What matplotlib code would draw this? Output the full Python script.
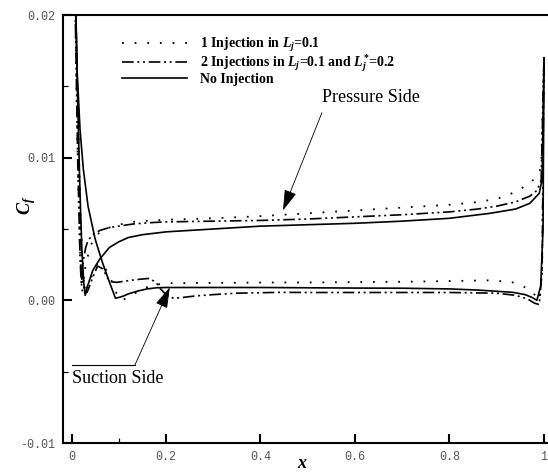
import numpy as np
import matplotlib
matplotlib.use("Agg")
import matplotlib.pyplot as plt
from matplotlib.ticker import FixedLocator

plt.rcParams['mathtext.fontset'] = 'custom'
plt.rcParams['mathtext.it'] = 'Liberation Serif:italic:bold'
plt.rcParams['mathtext.rm'] = 'Liberation Serif:bold'
plt.rcParams['mathtext.bf'] = 'Liberation Serif:bold'

CF_UNIT = 1e-3  # values below are in units of 1e-3

# ---- No Injection (solid) ----
noinj_p_x = [0.003, 0.008, 0.013, 0.018, 0.022, 0.026, 0.029, 0.033, 0.04, 0.045, 0.06, 0.08,
             0.1, 0.12, 0.15, 0.2, 0.3, 0.4, 0.5, 0.6, 0.7, 0.8, 0.886, 0.94, 0.97, 0.99, 0.996, 1.0]
noinj_p_y = [30, 22, 14, 7.5, 3.5, 1.2, 0.35, 0.9, 1.6, 2.1, 2.9, 3.7,
             4.1, 4.4, 4.6, 4.8, 5.0, 5.2, 5.3, 5.4, 5.55, 5.75, 6.1, 6.4, 6.8, 7.5, 8.5, 17]
noinj_s_x = [0.003, 0.008, 0.012, 0.018, 0.025, 0.035, 0.05, 0.065, 0.08, 0.093, 0.1,
             0.11, 0.12, 0.14, 0.16, 0.18, 0.2, 0.25, 0.3, 0.4, 0.5, 0.6, 0.7, 0.8, 0.86, 0.934,
             0.96, 0.975, 0.985, 0.993, 0.998, 1.0]
noinj_s_y = [30, 22, 16, 12, 9.2, 6.6, 4.3, 2.7, 1.3, 0.15, 0.2,
             0.3, 0.45, 0.65, 0.8, 0.88, 0.9, 0.9, 0.9, 0.9, 0.88, 0.86, 0.85, 0.8, 0.72, 0.56,
             0.4, 0.2, 0.0, 1.0, 5.0, 17]

# ---- 2 Injections (dash-dot-dot) ----
twoinj_p_x = [0.003, 0.008, 0.013, 0.018, 0.021, 0.025, 0.03, 0.035, 0.045, 0.06, 0.08, 0.1,
              0.13, 0.17, 0.2, 0.3, 0.4, 0.5, 0.6, 0.7, 0.8, 0.86, 0.9, 0.94, 0.97, 0.985, 0.994, 1.0]
twoinj_p_y = [30, 20, 10, 3.0, 1.0, 2.8, 3.7, 4.2, 4.6, 4.9, 5.1, 5.2,
              5.35, 5.45, 5.5, 5.55, 5.6, 5.7, 5.85, 6.0, 6.2, 6.4, 6.6, 6.9, 7.3, 7.7, 8.4, 17]
twoinj_s_x = [0.003, 0.008, 0.013, 0.018, 0.023, 0.028, 0.033, 0.045, 0.055, 0.067, 0.075,
              0.085, 0.096, 0.11, 0.124, 0.145, 0.166, 0.18, 0.187, 0.2, 0.215, 0.23, 0.26, 0.3,
              0.35, 0.44, 0.5, 0.6, 0.7, 0.8, 0.9, 0.94, 0.965, 0.98, 0.99, 0.996, 1.0]
twoinj_s_y = [30, 22, 14, 6, 1.5, 0.5, 0.56, 1.6, 2.4, 2.2, 1.6,
              1.3, 1.26, 1.33, 1.4, 1.48, 1.54, 1.2, 0.85, 0.4, 0.15, 0.18, 0.3, 0.4,
              0.5, 0.56, 0.55, 0.55, 0.55, 0.55, 0.5, 0.35, 0.1, -0.2, -0.3, 2.0, 17]

# ---- 1 Injection (dotted) ----
oneinj_p_x = [0.003, 0.008, 0.013, 0.018, 0.023, 0.03, 0.04, 0.05, 0.07, 0.1, 0.13, 0.17, 0.2,
              0.3, 0.4, 0.5, 0.6, 0.7, 0.8, 0.85, 0.9, 0.94, 0.97, 0.985, 0.994, 1.0]
oneinj_p_y = [30, 20, 10, 3.5, 0.6, 2.5, 3.8, 4.5, 5.0, 5.3, 5.5, 5.6, 5.65,
              5.75, 5.9, 6.1, 6.3, 6.5, 6.7, 6.85, 7.1, 7.6, 8.2, 8.7, 9.3, 17]
oneinj_s_x = [0.003, 0.008, 0.013, 0.018, 0.024, 0.03, 0.04, 0.055, 0.07, 0.08, 0.09, 0.1,
              0.11, 0.13, 0.15, 0.17, 0.2, 0.3, 0.4, 0.5, 0.6, 0.7, 0.8, 0.88, 0.93, 0.955,
              0.975, 0.99, 0.996, 1.0]
oneinj_s_y = [30, 22, 14, 7, 2, 0.8, 1.5, 2.6, 2.3, 1.8, 0.9, 0.1,
              0.05, 0.4, 0.8, 1.05, 1.2, 1.22, 1.25, 1.25, 1.28, 1.3, 1.35, 1.4, 1.3, 1.0,
              0.6, 0.0, 2.0, 17]

labels = ["1 Injection in $L_j$=0.1",
          "2 Injections in $L_j$=0.1 and $L_j^{*}$=0.2",
          "No Injection"]

xticks = [0, 0.2, 0.4, 0.6, 0.8, 1.0]
xtick_labels = ["0", "0.2", "0.4", "0.6", "0.8", "1"]
yticks = [-0.01, 0.0, 0.01, 0.02]
ytick_labels = ["-0.01", "0.00", "0.01", "0.02"]

# ---------------------------------------------------------------
W, H = 548, 475
fig = plt.figure(figsize=(W / 100, H / 100), dpi=100)
ax = fig.add_axes([63 / W, (H - 443) / H, (W - 63) / W, (443 - 15) / H])

def cf(v):
    return np.asarray(v) * CF_UNIT

dotted = (0, (1.0, 6.0))
dashdot = (0, (7, 2.2, 1.2, 2.2, 1.2, 2.2))
lw = 1.2

l1, = ax.plot(oneinj_p_x, cf(oneinj_p_y), color='black', lw=1.3, linestyle=dotted,
              label=labels[0])
ax.plot(oneinj_s_x, cf(oneinj_s_y), color='black', lw=1.3, linestyle=dotted)
l2, = ax.plot(twoinj_p_x, cf(twoinj_p_y), color='black', lw=lw, linestyle=dashdot,
              label=labels[1])
ax.plot(twoinj_s_x, cf(twoinj_s_y), color='black', lw=lw, linestyle=dashdot)
l3, = ax.plot(noinj_p_x, cf(noinj_p_y), color='black', lw=lw, linestyle='-',
              label=labels[2])
ax.plot(noinj_s_x, cf(noinj_s_y), color='black', lw=lw, linestyle='-')

ax.set_xlim(-0.018, 1.0085)
ax.set_ylim(-0.01, 0.02)

ax.set_xticks(xticks)
ax.set_xticklabels(xtick_labels)
ax.set_yticks(yticks)
ax.set_yticklabels(ytick_labels)
ax.xaxis.set_minor_locator(FixedLocator([0.1]))
ax.yaxis.set_minor_locator(FixedLocator([-0.005, 0.005, 0.015]))

ax.tick_params(which='major', direction='in', length=6.5, width=1.5, pad=5.5,
               labelsize=8.5, labelcolor='#555555')
ax.tick_params(which='minor', direction='in', length=3.5, width=0.9)
ax.tick_params(axis='x', which='both', top=False)
ax.tick_params(axis='y', which='both', right=False)
for lab in ax.get_xticklabels() + ax.get_yticklabels():
    lab.set_fontfamily('Liberation Mono')

for s in ['left', 'bottom', 'top']:
    ax.spines[s].set_linewidth(1.5)
ax.spines['right'].set_visible(False)

ax.set_xlabel("x", fontsize=13, family='Liberation Serif', style='italic',
              weight='bold')
ax.set_ylabel("$C_f$", fontsize=13)
ax.xaxis.set_label_coords((302 - 63) / 485, (443 - 455) / 428)
ax.yaxis.set_label_coords((38 - 63) / 485, (443 - 205) / 428)

leg = ax.legend(handles=[l1, l2, l3], loc='upper left',
                bbox_to_anchor=((122 - 63) / 485, (443 - 36) / 428),
                frameon=False, borderpad=0, borderaxespad=0,
                handlelength=4.7, handletextpad=0.9, labelspacing=-0.1,
                prop={'family': 'Liberation Serif', 'weight': 'bold', 'size': 10})

# Annotations
ax.annotate('', xy=(0.4476, 0.0063), xytext=(0.530, 0.01315),
            arrowprops=dict(arrowstyle='-|>,head_length=1.0,head_width=0.3',
                            lw=0.6, color='black', shrinkA=0, shrinkB=0,
                            mutation_scale=13))
ax.text(0.530, 0.0142, "Pressure Side", fontsize=13, family='Liberation Serif',
        ha='left', va='center')

ax.annotate('', xy=(0.208, 0.00091), xytext=(0.134, -0.00455),
            arrowprops=dict(arrowstyle='-|>,head_length=1.0,head_width=0.3',
                            lw=0.6, color='black', shrinkA=0, shrinkB=0,
                            mutation_scale=13))
ax.plot([0.001, 0.134], [-0.00455, -0.00455], color='black', lw=0.8)
ax.text(0.001, -0.0055, "Suction Side", fontsize=13, family='Liberation Serif',
        ha='left', va='center')

fig.savefig("out.png", dpi=100)
